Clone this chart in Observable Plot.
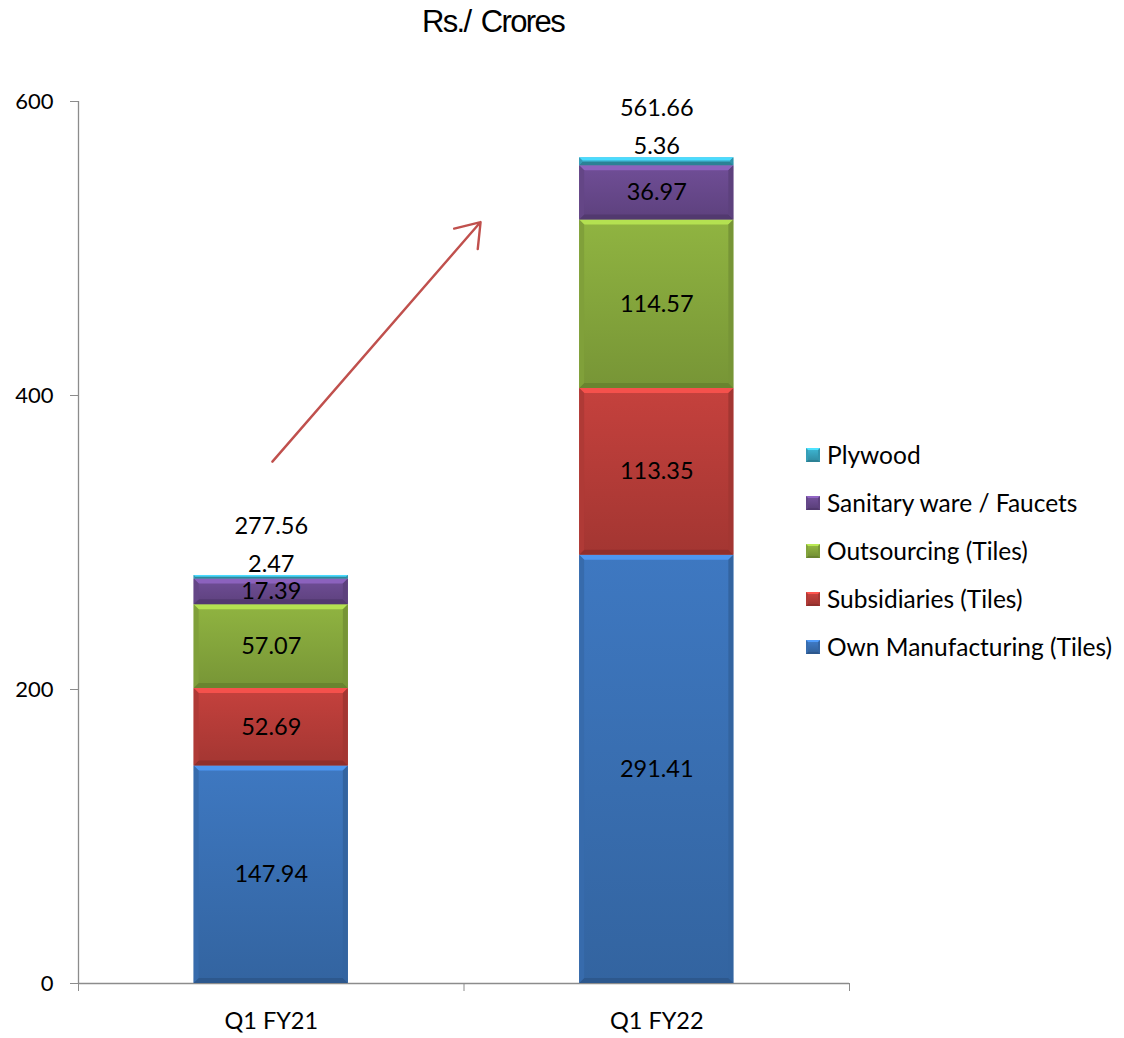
<!DOCTYPE html>
<html>
<head>
<meta charset="utf-8">
<script src="https://cdn.jsdelivr.net/npm/d3@7"></script>
<script src="https://cdn.jsdelivr.net/npm/@observablehq/plot@0.6"></script>
<style>
  html, body { margin: 0; padding: 0; background: #fff; }
  #wrap { position: relative; width: 1124px; height: 1038px; font-family: Lato, "Open Sans", sans-serif; }
  #title { position: absolute; left: 0; width: 986px; top: 4px; text-align: center;
           font-family: "Liberation Sans", sans-serif; font-size: 31px; letter-spacing: -1.6px; word-spacing: 3px; color: #000; }
  #legend { position: absolute; left: 806px; top: 440px; font-size: 24.5px; color: #000; }
  .item { height: 48px; display: flex; align-items: flex-start; }
  .sw { width: 14px; height: 14px; margin-top: 8px; margin-right: 7px; box-sizing: border-box; }
</style>
</head>
<body>
<div id="wrap">
  <div id="title">Rs./ Crores</div>
  <div id="chart"></div>
  <div id="legend"></div>
</div>
<script>
// Revenue mix by segment, Rs. crores
const categories = ["Q1 FY21", "Q1 FY22"];
const series = ["Own Manufacturing (Tiles)", "Subsidiaries (Tiles)", "Outsourcing (Tiles)", "Sanitary ware / Faucets", "Plywood"];
const fy21Values = [147.94, 52.69, 57.07, 17.39, 2.47];
const fy22Values = [291.41, 113.35, 114.57, 36.97, 5.36];
const totals = [277.56, 561.66];
const seriesColors = ["#3C75BC", "#BF3F3B", "#8CAF3F", "#6D4C93", "#3AABC6"];
const yTicks = [0, 200, 400, 600];

const valuesByCategory = [fy21Values, fy22Values];
const BAR = 0.4; // bar width in category units

// stacked segments: bottom-up in series order
const rows = [];
categories.forEach((c, i) => {
  let base = 0;
  series.forEach((s, k) => {
    const v = valuesByCategory[i][k];
    rows.push({category: c, idx: i, series: s, k, value: v, y1: base, y2: base + v});
    base += v;
  });
});
const totalRows = categories.map((c, i) => ({category: c, idx: i, total: totals[i]}));

// gradient defs for the bevelled bars
const defs = d3.create("svg").attr("width", 0).attr("height", 0).style("position", "absolute");
const dg = defs.append("defs");
seriesColors.forEach((c, k) => {
  const g = dg.append("linearGradient").attr("id", "grad" + k).attr("x1", 0).attr("y1", 0).attr("x2", 0).attr("y2", 1);
  g.append("stop").attr("offset", "0%").attr("stop-color", d3.color(c).brighter(0.08).formatHex());
  g.append("stop").attr("offset", "100%").attr("stop-color", d3.color(c).darker(0.45).formatHex());
});
document.getElementById("wrap").appendChild(defs.node());

function bevel(index, scales, values, dimensions, context, next) {
  const g = next(index, scales, values, dimensions, context);
  const ns = "http://www.w3.org/2000/svg";
  g.querySelectorAll("rect").forEach((r, j) => {
    const d = rows[index[j]];
    const base = d3.color(seriesColors[d.k]);
    const x = +r.getAttribute("x"), y = +r.getAttribute("y");
    const w = +r.getAttribute("width"), h = +r.getAttribute("height");
    r.setAttribute("fill", `url(#grad${d.k})`);
    const b = Math.min(5, h / 2.5);
    const faces = [
      [[x, y], [x + w, y], [x + w - b, y + b], [x + b, y + b], base.brighter(0.7)],
      [[x, y + h], [x + w, y + h], [x + w - b, y + h - b], [x + b, y + h - b], base.darker(0.8)],
      [[x, y], [x + b, y + b], [x + b, y + h - b], [x, y + h], base.darker(0.25)],
      [[x + w, y], [x + w - b, y + b], [x + w - b, y + h - b], [x + w, y + h], base.darker(0.45)]
    ];
    for (const f of faces) {
      const p = document.createElementNS(ns, "polygon");
      p.setAttribute("points", f.slice(0, 4).map(q => q.join(",")).join(" "));
      p.setAttribute("fill", f[4].formatHex());
      g.appendChild(p);
    }
  });
  return g;
}

const center = d => d.idx + 0.5;
const innerRows = rows.filter(d => d.series !== "Plywood");
const topRows = rows.filter(d => d.series === "Plywood");

const chart = Plot.plot({
  width: 1124,
  height: 1038,
  marginTop: 101,
  marginBottom: 55,
  marginLeft: 78,
  marginRight: 275,
  x: {domain: [0, 2], axis: null},
  y: {domain: [0, 600], axis: null},
  color: {domain: series, range: seriesColors},
  style: {fontFamily: "Lato, 'Open Sans', sans-serif", fontSize: "23.5px", color: "#000", background: "#fff"},
  marks: [
    Plot.axisY({ticks: yTicks, tickSize: 8, tickPadding: 17, stroke: "#8c8c8c", fill: "#000", fontSize: 22, label: null, tickFormat: d => String(d)}),
    Plot.axisX({ticks: [0, 1, 2], tickSize: 8, stroke: "#8c8c8c", tickFormat: () => "", label: null}),
    Plot.axisX({ticks: [0.5, 1.5], tickSize: 0, tickPadding: 29, fill: "#000", label: null, tickFormat: v => categories[Math.floor(v)]}),
    Plot.ruleX([0], {y1: 0, y2: 600, stroke: "#8c8c8c", strokeWidth: 1.3}),
    Plot.ruleY([0], {stroke: "#8c8c8c", strokeWidth: 1.3}),
    Plot.rect(rows, {x1: d => d.idx + 0.5 - BAR / 2, x2: d => d.idx + 0.5 + BAR / 2, y1: "y1", y2: "y2", fill: "series", render: bevel}),
    Plot.text(innerRows, {x: center, y: d => (d.y1 + d.y2) / 2, text: d => d.value.toFixed(2), fill: "#000"}),
    Plot.text(topRows, {x: center, y: "y2", dy: -11, text: d => d.value.toFixed(2), fill: "#000"}),
    Plot.text(totalRows, {x: center, y: "total", dy: -49, text: d => d.total.toFixed(2), fill: "#000"}),
    Plot.arrow([{x1: 0.503, y1: 355, x2: 1.043, y2: 518}], {
      x1: "x1", y1: "y1", x2: "x2", y2: "y2",
      stroke: "#C0504D", strokeWidth: 2.4, headLength: 17, headAngle: 70
    })
  ]
});
document.getElementById("chart").appendChild(chart);

// legend, top entry is the top of the stack
const legend = d3.select("#legend");
series.map((s, k) => ({s, k})).reverse().forEach(({s, k}) => {
  const c = d3.color(seriesColors[k]);
  const item = legend.append("div").attr("class", "item");
  item.append("div").attr("class", "sw")
    .style("background", `linear-gradient(${c.brighter(0.1).formatHex()}, ${c.darker(0.5).formatHex()})`)
    .style("border-top", `2px solid ${c.brighter(0.8).formatHex()}`)
    .style("border-bottom", `2px solid ${c.darker(0.8).formatHex()}`)
    .style("border-left", `2px solid ${c.darker(0.2).formatHex()}`)
    .style("border-right", `2px solid ${c.darker(0.4).formatHex()}`);
  item.append("span").text(s);
});
</script>
</body>
</html>
